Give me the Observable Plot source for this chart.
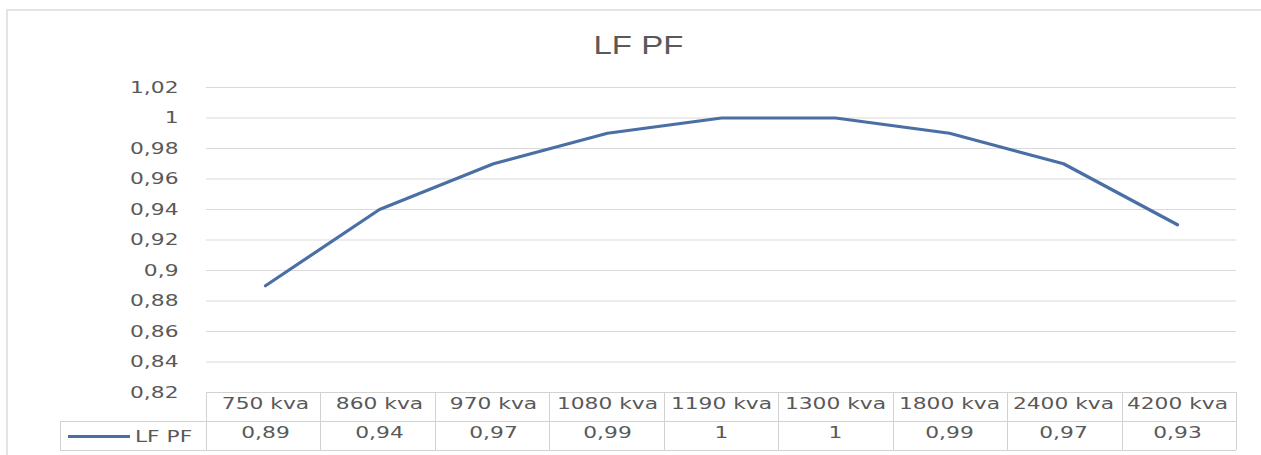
<!DOCTYPE html>
<html>
<head>
<meta charset="utf-8">
<script src="https://cdn.jsdelivr.net/npm/d3@7"></script>
<script src="https://cdn.jsdelivr.net/npm/@observablehq/plot@0.6"></script>
<style>
  html, body { margin: 0; padding: 0; background: #fff; }
  #wrap { position: relative; width: 1261px; height: 455px; overflow: hidden; }
  #frame { position: absolute; left: 6px; top: 9px; width: 1400px; height: 600px;
           border-left: 2px solid #e4e4e4; border-top: 2px solid #e4e4e4; }
  #title { position: absolute; left: 0; top: 30px; width: 1276px; text-align: center;
           font-family: "Liberation Sans", Arial, sans-serif; font-size: 26px; line-height: 30px;
           color: #595959; }
  #title span { display: inline-block; transform: scaleX(1.27); }
  #chart { position: absolute; left: 0; top: 0; }
</style>
</head>
<body>
<div id="wrap">
  <div id="frame"></div>
  <div id="chart"></div>
  <div id="title"><span></span></div>
</div>
<script>
const chartTitle = "LF PF";
const seriesName = "LF PF";
const categories = ["750 kva", "860 kva", "970 kva", "1080 kva", "1190 kva", "1300 kva", "1800 kva", "2400 kva", "4200 kva"];
const lfpf = [0.89, 0.94, 0.97, 0.99, 1, 1, 0.99, 0.97, 0.93];
const yTicks = [0.82, 0.84, 0.86, 0.88, 0.9, 0.92, 0.94, 0.96, 0.98, 1, 1.02];

const lineColor = "#4a6fa5";
const textColor = "#595959";
const fontPx = 16.5;
const stretch = 1.32;   // the reference text is drawn horizontally stretched
const fmt = d => String(d).replace(".", ",");
const data = categories.map((c, i) => ({category: c, value: lfpf[i]}));

document.querySelector("#title span").textContent = chartTitle;

const chart = Plot.plot({
  width: 1261,
  height: 455,
  marginLeft: 206,
  marginRight: 25,
  marginTop: 87,
  marginBottom: 63,
  style: {background: "transparent", fontFamily: "DejaVu Sans", fontSize: fontPx + "px", color: textColor, overflow: "visible"},
  x: {type: "band", domain: categories, padding: 0, axis: null},
  y: {domain: [0.82, 1.02], ticks: yTicks, tickFormat: fmt, tickSize: 0, tickPadding: 28, label: null},
  marks: [
    Plot.ruleY(yTicks.filter(t => t > 0.82), {stroke: "#d9d9d9", strokeWidth: 1}),
    Plot.line(data, {x: "category", y: "value", stroke: lineColor, strokeWidth: 3.2, strokeLinejoin: "round", strokeLinecap: "round"}),
    Plot.text(data, {x: "category", text: "category", frameAnchor: "bottom", dy: 16, fill: textColor, fontSize: fontPx}),
    Plot.text(data, {x: "category", text: d => fmt(d.value), frameAnchor: "bottom", dy: 45, fill: textColor, fontSize: fontPx})
  ]
});

document.getElementById("chart").appendChild(chart);

// Data table grid built from the plot's own x scale
const xs = chart.scale("x");
const [x0, x1] = xs.range;
const step = (x1 - x0) / categories.length;
const tableTop = 455 - 63;
const rowH = 29;
const svg = d3.select(chart);
const g = svg.append("g").attr("stroke", "#d2d2d2").attr("fill", "none").attr("stroke-width", 1);
g.append("line").attr("x1", x0).attr("x2", x1).attr("y1", tableTop + 0.5).attr("y2", tableTop + 0.5);
g.append("line").attr("x1", 60).attr("x2", x1).attr("y1", tableTop + rowH + 0.5).attr("y2", tableTop + rowH + 0.5);
g.append("line").attr("x1", 60).attr("x2", x1).attr("y1", tableTop + 2 * rowH + 0.5).attr("y2", tableTop + 2 * rowH + 0.5);
for (let i = 0; i <= categories.length; i++) {
  const x = Math.round(x0 + i * step) + 0.5;
  g.append("line").attr("x1", x).attr("x2", x).attr("y1", tableTop).attr("y2", tableTop + 2 * rowH);
}
g.append("line").attr("x1", 60.5).attr("x2", 60.5).attr("y1", tableTop + rowH).attr("y2", tableTop + 2 * rowH);

// legend key in the table
const ly = tableTop + rowH + rowH / 2 + 1;
svg.append("line").attr("x1", 68).attr("x2", 130).attr("y1", ly).attr("y2", ly)
  .attr("stroke", lineColor).attr("stroke-width", 3.2);
svg.append("text").attr("x", 135).attr("y", ly).attr("dy", "0.32em")
  .attr("text-anchor", "start").attr("fill", textColor).attr("font-size", fontPx).text(seriesName);

// stretch every text horizontally about its own anchor point
svg.selectAll("text").each(function () {
  const el = d3.select(this);
  const x = +el.attr("x") || 0, y = +el.attr("y") || 0;
  const t = el.attr("transform") || "";
  el.attr("transform", `${t} translate(${x},${y}) scale(${stretch},1) translate(${-x},${-y})`);
});
</script>
</body>
</html>
